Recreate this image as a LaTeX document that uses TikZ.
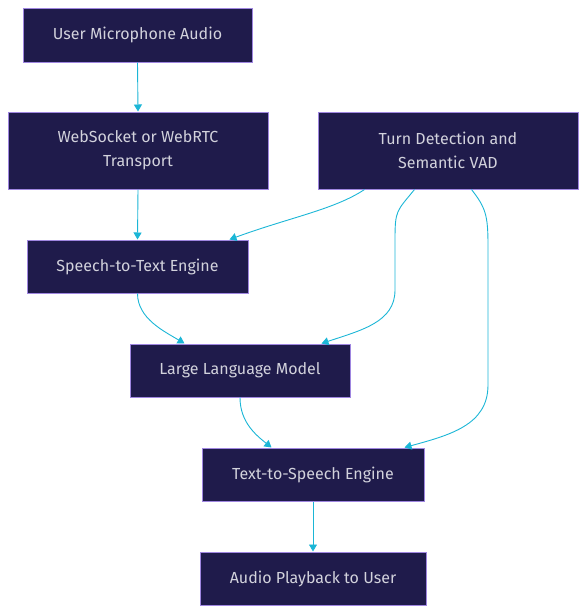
\documentclass[tikz,border=0pt]{standalone}
\usepackage{fontspec}
\setmainfont{Fira Sans}
\usepackage{xcolor}
\usepackage{tikz}
\usetikzlibrary{arrows.meta}
\definecolor{boxfill}{HTML}{1F1B4B}
\definecolor{boxline}{HTML}{9F86E0}
\definecolor{boxtext}{HTML}{D2D2DC}
\definecolor{flow}{HTML}{1BB6D6}
\tikzset{
    box/.style={draw=boxline,fill=boxfill,text=boxtext,line width=1pt,align=center,inner sep=0pt,font=\fontsize{16}{24}\selectfont},
    flowline/.style={draw=flow,line width=0.9pt,-{Triangle[length=7pt,width=8pt]}}
}
\begin{document}
\begin{tikzpicture}[x=1pt,y=-1pt]
\useasboundingbox (0,0) rectangle (586,614);
% boxes
\node[box,minimum width=229pt,minimum height=54pt] (mic) at (137.5,35) {User Microphone Audio};
\node[box,minimum width=260pt,minimum height=77pt] (ws) at (138,150.5) {WebSocket or WebRTC\\Transport};
\node[box,minimum width=260pt,minimum height=77pt] (turn) at (448,150.5) {Turn Detection and\\Semantic VAD};
\node[box,minimum width=221pt,minimum height=53pt] (stt) at (137.5,266.5) {Speech-to-Text Engine};
\node[box,minimum width=220pt,minimum height=53pt] (llm) at (240,370.5) {Large Language Model};
\node[box,minimum width=222pt,minimum height=53pt] (tts) at (313,474.5) {Text-to-Speech Engine};
\node[box,minimum width=226pt,minimum height=53pt] (play) at (313,578.5) {Audio Playback to User};
% straight links
\draw[flowline] (mic.south) -- (ws.north);
\draw[flowline] (ws.south) -- (stt.north);
\draw[flowline] (tts.south) -- (play.north);
% curved links
\draw[flowline] (stt.south) .. controls ++(0,25) and ++(-20,-12) .. ([xshift=55pt]llm.north west);
\draw[flowline] (llm.south) .. controls ++(0,25) and ++(-15,-12) .. ([xshift=70pt]tts.north west);
\draw[flowline] ([xshift=47pt]turn.south west) .. controls ++(-30,20) and ++(60,-22) .. ([xshift=203pt]stt.north west);
\draw[flowline] ([xshift=97pt]turn.south west) .. controls ++(-18,22) and ++(0,-30) .. (395,240) -- (395,290)
    .. controls (395,322) and (362,330) .. ([xshift=192pt]llm.north west);
\draw[flowline] ([xshift=154pt]turn.south west) .. controls ++(14,18) and ++(0,-30) .. (488,245) -- (488,385)
    .. controls (488,425) and (450,435) .. ([xshift=203pt]tts.north west);
\end{tikzpicture}
\end{document}
